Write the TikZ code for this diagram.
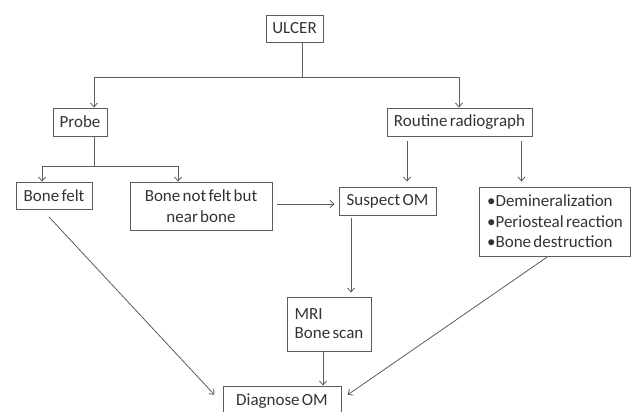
\documentclass[tikz,border=0pt]{standalone}
\usepackage{fontspec}
\setmainfont{Carlito}[WordSpace=0.6]
\usetikzlibrary{arrows.meta}
\definecolor{linegray}{HTML}{5C5C5C}
\definecolor{textgray}{HTML}{333333}
\tikzset{
  box/.style={draw=linegray, line width=0.9pt, rectangle, inner sep=0pt, text=textgray,
    font=\fontsize{17}{20.5}\selectfont},
  conn/.style={draw=linegray, line width=0.8pt},
  arr/.style={conn, -{Straight Barb[length=4pt,width=7pt]}}
}
\begin{document}
\begin{tikzpicture}[x=1pt,y=-1pt]
\useasboundingbox (0,0) rectangle (632,412);
% nodes
\node[box, minimum width=57pt, minimum height=27pt] (ulcer) at (294.5,28.5) {ULCER};
\node[box, minimum width=54pt, minimum height=28pt] (probe) at (80,122) {Probe};
\node[box, minimum width=145pt, minimum height=28pt] (routine) at (459.5,122) {Routine radiograph};
\node[box, minimum width=76pt, minimum height=27pt] (bonefelt) at (54,195.5) {Bone felt};
\node[box, minimum width=142pt, minimum height=48pt, align=center] (notfelt) at (201,206) {Bone not felt but\\near bone};
\node[box, minimum width=97pt, minimum height=28pt] (suspect) at (387.5,201) {Suspect OM};
\node[box, minimum width=151pt, minimum height=69pt, align=left] (demin) at (555,221.5)
  {•Demineralization\\•Periosteal reaction\\•Bone destruction};
\node[box, minimum width=84pt, minimum height=54pt, align=left, font=\fontsize{17}{19}\selectfont] (mri) at (329,324) {MRI\\Bone scan};
\node[box, minimum width=118pt, minimum height=31pt] (diag) at (282,401.5) {Diagnose OM};
% junction coordinates
\coordinate (uj) at (302,77);
\coordinate (pj) at (94,77);
\coordinate (rj) at (459,77);
\coordinate (bj) at (94,166);
\coordinate (bl) at (42,166);
\coordinate (br) at (178,166);
% connectors
\draw[conn] ([xshift=7.5pt]ulcer.south) -- (uj);
\draw[conn] (pj) -- (rj);
\draw[arr] (pj) -- (probe.north -| pj);
\draw[arr] (rj) -- (routine.north -| rj);
\draw[conn] (probe.south -| bj) -- (bj);
\draw[conn] (bl) -- (br);
\draw[arr] (bl) -- (bonefelt.north -| bl);
\draw[arr] (br) -- (notfelt.north -| br);
\draw[arr, shorten <=5pt, shorten >=4pt] ([yshift=2pt]notfelt.east) -- ([yshift=2pt]notfelt.east -| suspect.west);
\draw[arr, shorten <=5pt, shorten >=5pt] ([xshift=-52.5pt]routine.south) -- ([xshift=-52.5pt]routine.south |- suspect.north);
\draw[arr, shorten <=5pt, shorten >=5pt] ([xshift=62pt]routine.south) -- ([xshift=62pt]routine.south |- demin.north);
\draw[arr, shorten <=3pt, shorten >=4pt] ([xshift=-36.5pt]suspect.south) -- ([xshift=-36.5pt]suspect.south |- mri.north);
\draw[arr] ([xshift=-6pt]mri.south) -- ([xshift=-6pt]mri.south |- diag.north);
\draw[arr, shorten <=10pt, shorten >=12pt] ([xshift=-12pt]bonefelt.south) -- ([yshift=-2pt]diag.west);
\draw[arr, shorten <=1pt, shorten >=10pt] ([xshift=-7pt]demin.south) -- ([xshift=-2pt,yshift=1pt]diag.east);
\end{tikzpicture}
\end{document}
